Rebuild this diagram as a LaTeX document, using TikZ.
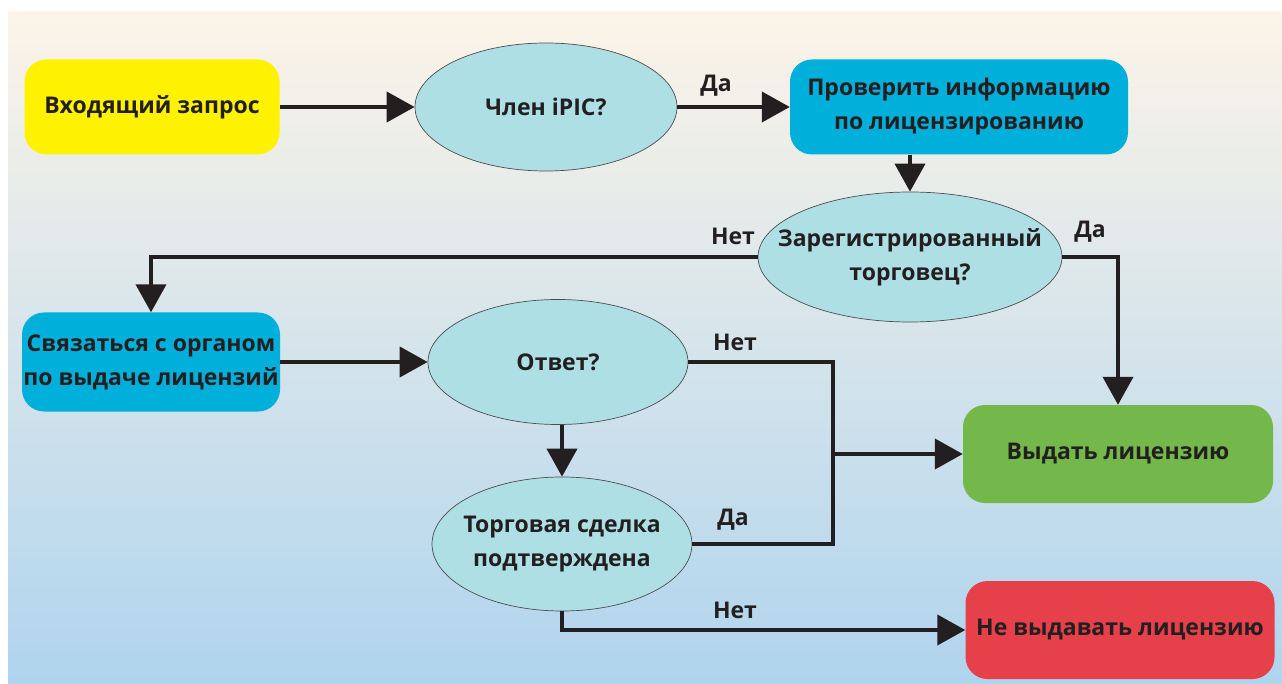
\documentclass[tikz,border=0pt]{standalone}
\usepackage{fontspec}
\setmainfont{Open Sans}
\usetikzlibrary{shapes.geometric,arrows.meta}
\definecolor{bgtop}{HTML}{FCF4E8}
\definecolor{bgmid}{HTML}{E2E8E8}
\definecolor{bgbot}{HTML}{AFD4EE}
\definecolor{yel}{HTML}{FFF200}
\definecolor{cyanbox}{HTML}{00AFDA}
\definecolor{ellfill}{HTML}{ADDFE4}
\definecolor{grn}{HTML}{74B74A}
\definecolor{rd}{HTML}{E6404A}
\definecolor{txt}{HTML}{231F20}
\begin{document}
\begin{tikzpicture}[x=1pt,y=-1pt,
  txtfont/.style={font=\bfseries\fontsize{23}{34}\selectfont, text=txt},
  box/.style={txtfont, rounded corners=22pt, align=center, inner sep=0pt},
  dec/.style={ellipse, draw=txt!80, line width=0.7pt, fill=ellfill, inner sep=0pt},
  dtext/.style={txtfont, align=center, inner sep=0pt},
  conn/.style={line width=4pt, draw=txt},
  arr/.style={conn, -{Triangle[length=28pt,width=30pt]}},
  lbl/.style={txtfont, inner sep=0pt}]
\useasboundingbox (0,0) rectangle (1282,684);
\fill[white] (0,0) rectangle (1282,684);
\shade[top color=bgtop, middle color=bgmid, bottom color=bgbot] (8,12) rectangle (1282,684);

\node[box, fill=yel, minimum width=255pt, minimum height=95pt] (in) at (152,107) {Входящий запрос};
\node[dec, minimum width=262pt, minimum height=128pt] (q1) at (546,107) {};
\node[dtext] (q1t) at (q1) {Член iPIC?};
\node[box, fill=cyanbox, minimum width=338pt, minimum height=95pt] (b1) at (959,107) {Проверить информацию\\по лицензированию};
\node[dec, minimum width=304pt, minimum height=130pt] (q2) at (910,257) {};
\node[dtext] (q2t) at (q2) {Зарегистрированный\\торговец?};
\node[box, fill=cyanbox, minimum width=258pt, minimum height=99pt] (b2) at (151,362) {Связаться с органом\\по выдаче лицензий};
\node[dec, minimum width=260pt, minimum height=125pt] (q3) at (558,362) {};
\node[dtext] (q3t) at (q3) {Ответ?};
\node[dec, minimum width=260pt, minimum height=134pt] (q4) at (562,544) {};
\node[dtext] (q4t) at (q4) {Торговая сделка\\подтверждена};
\node[box, fill=grn, minimum width=310pt, minimum height=98pt] (gr) at (1118,454) {Выдать лицензию};
\node[box, fill=rd, minimum width=309pt, minimum height=98pt] (red) at (1120,630) {Не выдавать лицензию};

\coordinate (jm) at (833,454);

\draw[arr] (in.east) -- (q1.west);
\draw[arr] (q1.east) -- (b1.west);
\draw[arr] (q2.north |- b1.south) -- (q2.north);
\draw[arr] (q2.west) -| (b2.north);
\draw[arr] (q2.east) -| (gr.north);
\draw[arr] (b2.east) -- (q3.west);
\draw[conn] (q3.east) -| (jm) |- (q4.east);
\draw[arr] (jm) -- (gr.west);
\draw[arr] (q3.south -| q4.north) -- (q4.north);
\draw[arr] (q4.south) |- (red.west);

\node[lbl] (l1) at (716,86) {Да};
\node[lbl] (l2) at (733,236) {Нет};
\node[lbl] (l3) at (1090,232) {Да};
\node[lbl] (l4) at (735,342) {Нет};
\node[lbl] (l5) at (733,520) {Да};
\node[lbl] (l6) at (735,610) {Нет};
\end{tikzpicture}
\end{document}
